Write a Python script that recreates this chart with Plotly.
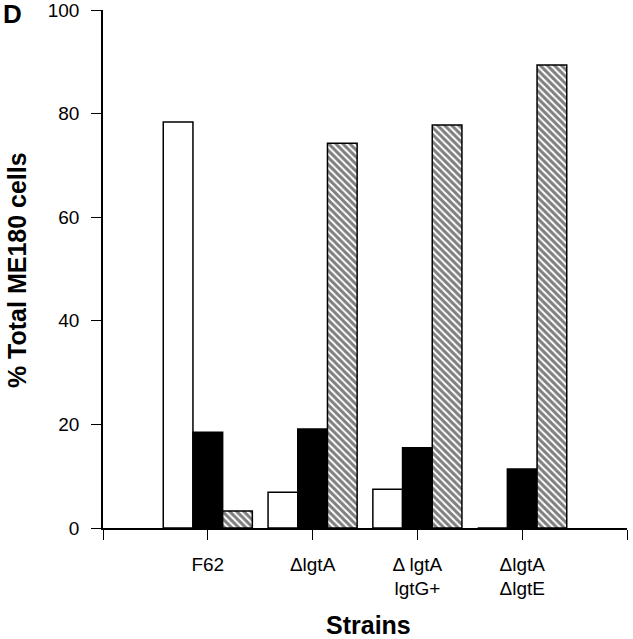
import plotly.graph_objects as go

strains = ["F62", "ΔlgtA", "Δ lgtA<br>lgtG+", "ΔlgtA<br>ΔlgtE"]
series_white = [78.4, 6.9, 7.5, 0.0]
series_black = [18.5, 19.1, 15.5, 11.4]
series_hatched = [3.3, 74.3, 77.8, 89.4]
y_ticks = [0, 20, 40, 60, 80, 100]

x_pos = list(range(1, len(strains) + 1))
tick_pos = [0] + x_pos + [len(strains) + 1]
tick_txt = [""] + strains + [""]

FONT = "Arial, Liberation Sans, sans-serif"

fig = go.Figure()
fig.add_trace(go.Bar(x=x_pos, y=series_white, name="white",
                     marker=dict(color="white", line=dict(color="black", width=1.5))))
fig.add_trace(go.Bar(x=x_pos, y=series_black, name="black",
                     marker=dict(color="black", line=dict(color="black", width=1.5))))
fig.add_trace(go.Bar(x=x_pos, y=series_hatched, name="hatched",
                     marker=dict(color="white", line=dict(color="black", width=1.5),
                                 pattern=dict(shape="\\", fgcolor="black", bgcolor="white",
                                              size=5, solidity=0.6))))

fig.update_layout(
    width=633, height=639,
    margin=dict(l=103, r=6, t=10, b=111, autoexpand=False),
    paper_bgcolor="white", plot_bgcolor="white",
    barmode="group", bargap=0.15, bargroupgap=0,
    showlegend=False,
    font=dict(family=FONT, color="black", size=19),
    xaxis=dict(range=[0, len(strains) + 1], tickmode="array", tickvals=tick_pos, ticktext=tick_txt,
               showline=True, linecolor="black", linewidth=1.5, ticks="outside", ticklen=10,
               tickwidth=1.2, tickcolor="black", showgrid=False, zeroline=False, automargin=False,
               ticklabelstandoff=8, tickfont=dict(size=19, family=FONT)),
    yaxis=dict(range=[0, 100.001], tickmode="array", tickvals=y_ticks,
               showline=True, linecolor="black", linewidth=1.5, ticks="outside", ticklen=10,
               tickwidth=1.2, tickcolor="black", showgrid=False, zeroline=False, automargin=False,
               ticklabelstandoff=8, ticklabeloverflow="allow", tickfont=dict(size=19, family=FONT)),
)

fig.add_annotation(text="<b>% Total ME180 cells</b>", xref="paper", yref="paper",
                   x=-0.164, y=0.498, xanchor="center", yanchor="middle", textangle=-90,
                   showarrow=False, font=dict(size=25, family=FONT, color="black"))
fig.add_annotation(text="<b>Strains</b>", xref="paper", yref="paper",
                   x=0.506, y=-0.188, xanchor="center", yanchor="middle",
                   showarrow=False, font=dict(size=25, family=FONT, color="black"))
fig.add_annotation(text="<b>D</b>", xref="paper", yref="paper", x=-0.1727, y=0.992,
                   xanchor="center", yanchor="middle", showarrow=False,
                   font=dict(size=26, family=FONT, color="black"))

fig.write_html("out.html", config={"displayModeBar": False},
               post_script="document.body.style.margin='0px';document.body.style.overflow='hidden';")
